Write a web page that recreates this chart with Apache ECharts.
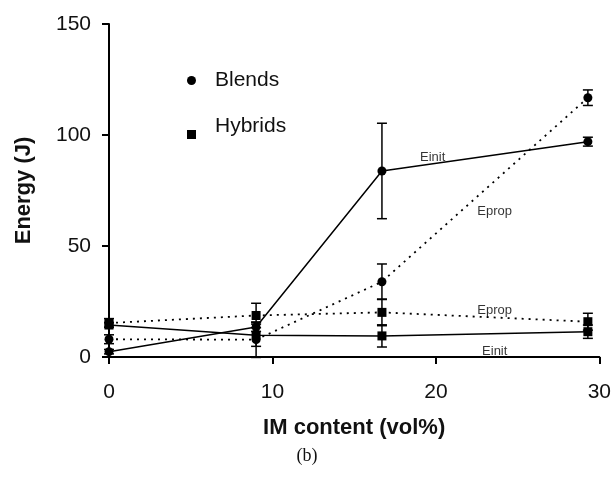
<!DOCTYPE html>
<html>
<head>
<meta charset="utf-8">
<script src="https://cdn.jsdelivr.net/npm/echarts@6/dist/echarts.min.js"></script>
<style>
  html, body { margin: 0; padding: 0; background: #fff; }
  #chart { width: 614px; height: 485px; }
</style>
</head>
<body>
<div id="chart"></div>
<script>
// IM content (vol%) at which the samples were tested
const imContent = [0, 9, 16.7, 29.3];

// Blends: initiation and propagation energy (J) with error half-widths
const blendsEinit = [2.4, 13.5, 83.8, 97.0];
const blendsEinitErr = [1.0, 2.0, 21.5, 2.0];
const blendsEprop = [8.0, 7.8, 33.9, 116.8];
const blendsEpropErr = [2.0, 8.0, 8.0, 3.5];

// Hybrids: initiation and propagation energy (J) with error half-widths
const hybridsEinit = [14.4, 9.8, 9.5, 11.4];
const hybridsEinitErr = [1.0, 5.0, 5.0, 3.0];
const hybridsEprop = [15.3, 18.7, 20.1, 15.9];
const hybridsEpropErr = [2.0, 5.5, 6.0, 3.8];

// In-plot curve annotations: [x, y, text]
const curveNotes = [
  [19.8, 90, 'Einit'],
  [23.6, 65.8, 'Eprop'],
  [23.6, 21.2, 'Eprop'],
  [23.6, 2.7, 'Einit']
];

const xTicks = [0, 10, 20, 30];
const yTicks = [0, 50, 100, 150];

const INK = '#000';
const FONT = '"Liberation Sans", Arial, Helvetica, sans-serif';

function pts(ys) { return imContent.map((x, i) => [x, ys[i]]); }
function errPts(ys, es) { return imContent.map((x, i) => [x, ys[i], es[i]]); }

// vertical error bar with short caps
function errorBar(params, api) {
  const x = api.value(0), y = api.value(1), e = api.value(2);
  const hi = api.coord([x, y + e]);
  const lo = api.coord([x, y - e]);
  const w = 5;
  const st = { stroke: INK, lineWidth: 1.5 };
  return {
    type: 'group',
    children: [
      { type: 'line', shape: { x1: hi[0], y1: hi[1], x2: lo[0], y2: lo[1] }, style: st },
      { type: 'line', shape: { x1: hi[0] - w, y1: hi[1], x2: hi[0] + w, y2: hi[1] }, style: st },
      { type: 'line', shape: { x1: lo[0] - w, y1: lo[1], x2: lo[0] + w, y2: lo[1] }, style: st }
    ]
  };
}

function errSeries(ys, es) {
  return {
    type: 'custom', renderItem: errorBar, data: errPts(ys, es),
    silent: true, z: 2, encode: { x: 0, y: 1 }
  };
}

function lineSeries(name, ys, symbol, dotted) {
  return {
    name: name, type: 'line', data: pts(ys),
    symbol: symbol, symbolSize: 9,
    showSymbol: true,
    itemStyle: { color: INK },
    lineStyle: dotted
      ? { color: INK, width: 1.8, type: [2, 5] }
      : { color: INK, width: 1.5, type: 'solid' },
    z: 3, silent: true, animation: false
  };
}

const chart = echarts.init(document.getElementById('chart'), null, { renderer: 'canvas' });

chart.setOption({
  animation: false,
  backgroundColor: '#fff',
  grid: { left: 109, right: 14, top: 24, bottom: 128, containLabel: false },
  legend: {
    orient: 'vertical', left: 187, top: 70, padding: 0, itemGap: 25,
    itemWidth: 9, itemHeight: 9, selectedMode: false,
    // the square marker sits a little below its text line
    formatter: name => name === 'Hybrids' ? '{t|' + name + '}\n{s|}' : '{t|' + name + '}',
    textStyle: {
      fontFamily: FONT, fontSize: 21, color: '#111', padding: [0, 0, 0, 14],
      rich: {
        t: { fontFamily: FONT, fontSize: 21, color: '#111', lineHeight: 25 },
        s: { fontSize: 1, lineHeight: 16 }
      }
    },
    data: [
      { name: 'Blends', icon: 'circle' },
      { name: 'Hybrids', icon: 'rect' }
    ]
  },
  xAxis: {
    type: 'value', min: xTicks[0], max: xTicks[xTicks.length - 1], interval: 10,
    name: 'IM content (vol%)', nameLocation: 'middle', nameGap: 60,
    nameTextStyle: { fontFamily: FONT, fontSize: 22, fontWeight: 'bold', color: '#111' },
    axisLine: { show: true, lineStyle: { color: INK, width: 2 } },
    axisTick: { show: true, inside: false, length: 7, lineStyle: { color: INK, width: 2 } },
    axisLabel: { fontFamily: FONT, fontSize: 21, color: '#111', margin: 25 },
    splitLine: { show: false }
  },
  yAxis: {
    type: 'value', min: yTicks[0], max: yTicks[yTicks.length - 1], interval: 50,
    name: 'Energy (J)', nameLocation: 'middle', nameGap: 74,
    nameTextStyle: { fontFamily: FONT, fontSize: 22, fontWeight: 'bold', color: '#111' },
    axisLine: { show: true, lineStyle: { color: INK, width: 2 } },
    axisTick: { show: true, inside: false, length: 7, lineStyle: { color: INK, width: 2 } },
    axisLabel: { fontFamily: FONT, fontSize: 21, color: '#111', margin: 18 },
    splitLine: { show: false }
  },
  graphic: [{
    type: 'text', left: 'center', top: 447,
    style: { text: '(b)', font: '18px "Liberation Serif", "Times New Roman", serif', fill: '#111' }
  }],
  series: [
    errSeries(blendsEinit, blendsEinitErr),
    errSeries(blendsEprop, blendsEpropErr),
    errSeries(hybridsEinit, hybridsEinitErr),
    errSeries(hybridsEprop, hybridsEpropErr),
    lineSeries('Blends', blendsEinit, 'circle', false),
    lineSeries('Blends Eprop', blendsEprop, 'circle', true),
    lineSeries('Hybrids', hybridsEinit, 'rect', false),
    lineSeries('Hybrids Eprop', hybridsEprop, 'rect', true),
    {
      type: 'scatter', data: curveNotes, symbolSize: 0, silent: true, z: 4,
      encode: { x: 0, y: 1 },
      label: {
        show: true, position: 'inside',
        formatter: p => p.value[2],
        fontFamily: FONT, fontSize: 13, color: '#000'
      }
    }
  ]
});
</script>
</body>
</html>
